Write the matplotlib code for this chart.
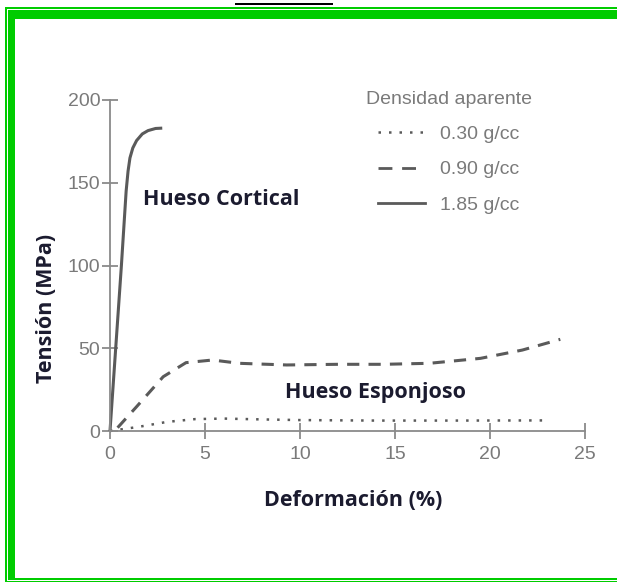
import matplotlib
matplotlib.use("Agg")
import matplotlib.pyplot as plt
from matplotlib.patches import Rectangle
from matplotlib.lines import Line2D

W, H = 617, 582

# data (strain %, stress MPa)
cort_x = [0, 0.3, 0.6, 0.85, 0.95, 1.05, 1.2, 1.4, 1.7, 2.0, 2.4, 2.75]
cort_y = [0, 50, 100, 145, 157, 165, 171, 175.5, 179.5, 181.5, 182.8, 183]

esp_x = [0.4, 1.4, 2.8, 4.0, 5.4, 6.8, 9.3, 12.0, 14.4, 16.8, 19.5, 21.7, 23.7]
esp_y = [2, 14.7, 32.8, 41.3, 42.9, 40.9, 39.9, 40.3, 40.3, 40.9, 43.9, 48.9, 55.4]

low_x = [0, 1.5, 3.0, 4.5, 6.0, 8.0, 10.0, 14.0, 18.0, 23.0]
low_y = [0, 2.5, 5.5, 7.2, 7.5, 7.0, 6.6, 6.3, 6.3, 6.4]

labels = ["0.30 g/cc", "0.90 g/cc", "1.85 g/cc"]
xticks = [0, 5, 10, 15, 20, 25]
yticks = [0, 50, 100, 150, 200]

gray = "#5a5a5a"
tick_gray = "#7a7a7a"
navy = "#1b1b2f"
green = "#00cc00"

fig = plt.figure(figsize=(W / 100, H / 100), dpi=100)
fig.patch.set_facecolor("white")


def px_rect(x, y, w, h, color):
    # rectangle in pixel coords, origin top-left
    fig.add_artist(Rectangle((x / W, 1 - (y + h) / H), w / W, h / H,
                             transform=fig.transFigure, facecolor=color,
                             edgecolor="none"))


# green frame (outer thin line + thick band)
px_rect(5, 7, W - 5, 1.8, green)
px_rect(5, 7, 1.5, H - 7, green)
px_rect(5, 580.6, W - 5, 1.4, green)
px_rect(7.5, 9.8, W - 7.5, 9.2, green)
px_rect(7.5, 9.8, 7.8, 578 - 9.8, green)
px_rect(7.5, 577.8, W - 7.5, 2, green)
# underline of the cut-off caption at the very top
px_rect(235, 3, 98, 1.6, "black")

ax = fig.add_axes([110 / W, 1 - 431 / H, 475 / W, 331 / H])
ax.set_xlim(0, 25)
ax.set_ylim(0, 200)

ax.plot(low_x, low_y, color=gray, lw=1.8, linestyle=(0, (1, 3.2)),
        clip_on=False)
ax.plot(esp_x, esp_y, color=gray, lw=2.2, linestyle=(0, (4, 3)),
        clip_on=False)
ax.plot(cort_x, cort_y, color=gray, lw=2.2, clip_on=False,
        solid_capstyle="butt")

for s in ["top", "right"]:
    ax.spines[s].set_visible(False)
for s in ["left", "bottom"]:
    ax.spines[s].set_color("#8a8a8a")
    ax.spines[s].set_linewidth(1.3)

ax.set_xticks(xticks)
ax.set_yticks(yticks)
ax.tick_params(direction="inout", length=11, width=1.3, color="#8a8a8a",
               labelcolor=tick_gray, labelsize=14)
ax.tick_params(axis="x", pad=5)
ax.tick_params(axis="y", pad=1.5)
for lab in ax.get_xticklabels() + ax.get_yticklabels():
    lab.set_fontfamily("Liberation Sans")

handles = [
    Line2D([], [], color=gray, lw=1.8, linestyle=(0, (1, 3.2))),
    Line2D([], [], color=gray, lw=2.0, linestyle=(0, (5, 3.5))),
    Line2D([], [], color=gray, lw=2.0),
]
leg = ax.legend(handles, labels, title="Densidad aparente", frameon=False,
                loc="upper left", bbox_to_anchor=(246 / 475, 1.056),
                borderpad=0, handlelength=2.4, handletextpad=0.75,
                labelspacing=0.9,
                prop={"family": "Liberation Sans", "size": 14})
leg.get_title().set_fontfamily("Liberation Sans")
leg.get_title().set_fontsize(14)
leg.get_title().set_color(tick_gray)
for t in leg.get_texts():
    t.set_color(tick_gray)

bold = dict(fontfamily="Open Sans", fontweight="bold", color=navy,
            fontsize=15.5)
ax.text(1.75, 140, "Hueso Cortical", ha="left", va="center", **bold)
ax.text(9.2, 23.5, "Hueso Esponjoso", ha="left", va="center", **bold)
ax.set_xlabel("Deformación (%)", va="center", **bold)
ax.xaxis.set_label_coords((353.5 - 110) / 475, -(500 - 431) / 331)
ax.set_ylabel("Tensión (MPa)", va="center", **bold)
ax.yaxis.set_label_coords((47 - 110) / 475, (431 - 308) / 331)

fig.savefig("out.png", dpi=100)
